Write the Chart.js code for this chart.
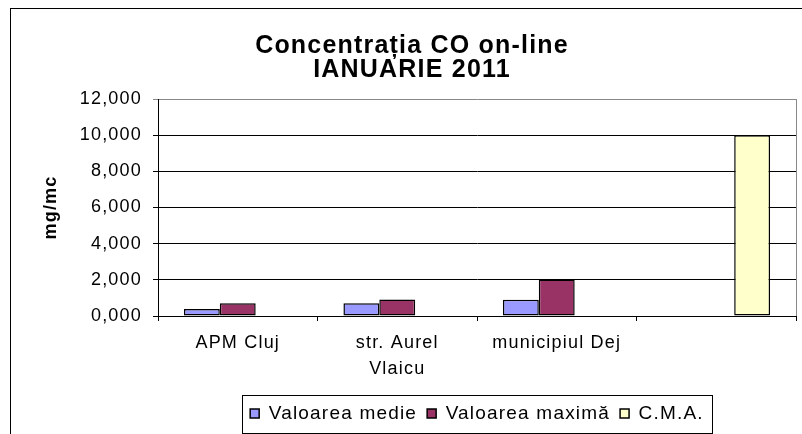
<!DOCTYPE html>
<html lang="ro">
<head>
  <meta charset="UTF-8">
  <title>Concentrația CO on-line</title>
  <script src="https://cdn.jsdelivr.net/npm/chart.js"></script>
  <style>
    body { margin: 0; background: #fff; }
  </style>
</head>
<body>
  <canvas id="chart" width="802" height="434"></canvas>

  <script>
    const categories = ['APM Cluj', ['str. Aurel', 'Vlaicu'], 'municipiul Dej', ''];
    const medie = [0.39, 0.71, 0.9, null];
    const maxima = [0.71, 0.91, 2.02, null];
    const cma = [null, null, null, 10];
    const yTicks = [0, 2, 4, 6, 8, 10, 12];

    Chart.defaults.font.family = "'Liberation Sans', Arial, sans-serif";
    Chart.defaults.color = '#000';

    // excel-ish wide text + outer frame + grey plot border on the right
    const look = {
      id: 'look',
      beforeLayout(c) { c.ctx.letterSpacing = '1.2px'; },
      beforeDraw(c) {
        const ctx = c.ctx;
        ctx.letterSpacing = '1.2px';
        ctx.save();
        ctx.fillStyle = '#fff';
        ctx.fillRect(0, 0, c.width, c.height);
        ctx.strokeStyle = '#000';
        ctx.lineWidth = 1;
        ctx.strokeRect(10.5, 8.5, 1000, 1000);
        ctx.restore();
      },
      beforeDatasetsDraw(c) {
        const a = c.chartArea, ctx = c.ctx;
        ctx.save();
        ctx.strokeStyle = '#888';
        ctx.lineWidth = 1;
        ctx.beginPath();
        ctx.moveTo(Math.round(a.right) + 0.5, a.top);
        ctx.lineTo(Math.round(a.right) + 0.5, a.bottom);
        ctx.stroke();
        ctx.restore();
      },
      afterDraw(c) {
        const boxes = c.legend.legendHitBoxes;
        if (!boxes.length) return;
        const first = boxes[0], last = boxes[boxes.length - 1];
        const cy = first.top + first.height / 2;
        const ctx = c.ctx;
        ctx.save();
        ctx.strokeStyle = '#000';
        ctx.lineWidth = 1;
        ctx.strokeRect(Math.round(first.left - 8) + 0.5, Math.round(cy - 19) + 0.5,
          Math.round(last.left + last.width - first.left + 16), 38);
        ctx.restore();
      }
    };

    const barStyle = { borderColor: '#000', borderWidth: 1.5, borderSkipped: false };

    new Chart(document.getElementById('chart'), {
      type: 'bar',
      data: {
        labels: categories,
        datasets: [
          { label: 'Valoarea medie', data: medie, backgroundColor: '#9999FF', ...barStyle },
          { label: 'Valoarea maximă', data: maxima, backgroundColor: '#993366', ...barStyle },
          { label: 'C.M.A.', data: cma, backgroundColor: '#FFFFCC', ...barStyle }
        ]
      },
      options: {
        responsive: false,
        animation: false,
        layout: { padding: { left: 28, right: 6, top: 0, bottom: 1 } },
        datasets: {
          bar: { categoryPercentage: 0.675, barPercentage: 1 }
        },
        plugins: {
          title: {
            display: true,
            text: ['Concentrația CO on-line', 'IANUARIE 2011'],
            font: { size: 25, weight: 'bold', lineHeight: 0.96 },
            padding: { top: 34, bottom: 17 }
          },
          legend: {
            position: 'bottom',
            fullSize: false,
            labels: { font: { size: 19 }, boxWidth: 9, boxHeight: 9, padding: 10 }
          },
          tooltip: { enabled: false }
        },
        scales: {
          x: {
            grid: { drawOnChartArea: false, color: '#000', tickLength: 5 },
            border: { color: '#000' },
            ticks: { font: { size: 18, lineHeight: 1.43 }, padding: 9, maxRotation: 0, autoSkip: false },
            afterFit(s) { s.height = 78; }
          },
          y: {
            min: 0,
            max: 12,
            afterBuildTicks(s) { s.ticks = yTicks.map(v => ({ value: v })); },
            grid: {
              color: c => (c.tick && c.tick.value === 12 ? '#888' : '#000'),
              tickLength: 5
            },
            border: { color: '#000' },
            ticks: {
              font: { size: 18 },
              padding: 11,
              callback: v => v.toFixed(3).replace('.', ',')
            },
            title: {
              display: true,
              text: 'mg/mc',
              font: { size: 18, weight: 'bold' },
              padding: { top: 12, bottom: 0 }
            },
            afterFit(s) { s.width = 130; }
          }
        }
      },
      plugins: [look]
    });
  </script>
</body>
</html>
